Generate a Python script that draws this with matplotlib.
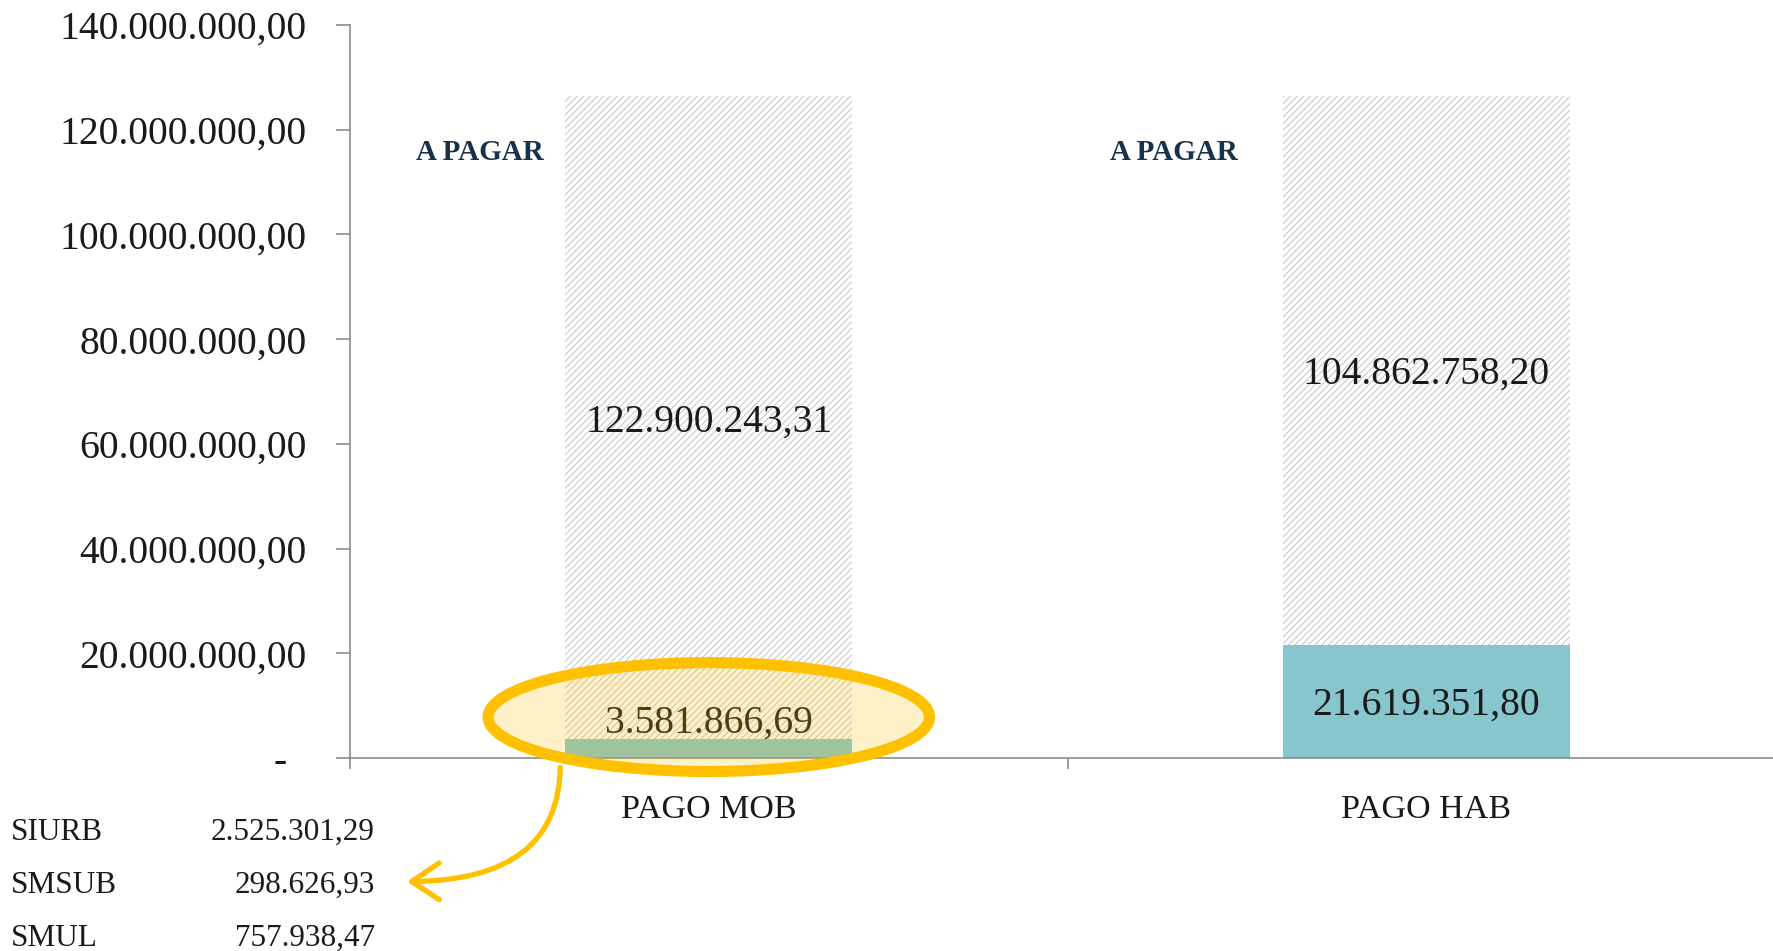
import numpy as np
import matplotlib
matplotlib.use('Agg')
import matplotlib.pyplot as plt
from matplotlib.patches import Ellipse, FancyArrowPatch

plt.rcParams['font.family'] = ['Liberation Serif', 'DejaVu Serif']
plt.rcParams['hatch.linewidth'] = 0.7

# values
categories = ['PAGO MOB', 'PAGO HAB']
pago = [3581866.69, 21619351.80]
a_pagar = [122900243.31, 104862758.20]
pago_labels = ['3.581.866,69', '21.619.351,80']
a_pagar_labels = ['122.900.243,31', '104.862.758,20']
detail_names = ['SIURB', 'SMSUB', 'SMUL']
detail_values = ['2.525.301,29', '298.626,93', '757.938,47']
yticks = [0, 20e6, 40e6, 60e6, 80e6, 100e6, 120e6, 140e6]

teal = '#86c6cc'
gray_axis = '#8c8c8c'
gold = '#ffc000'
navy = '#17324a'

fig = plt.figure(figsize=(17.73, 9.51), dpi=100)
ax = fig.add_axes([0.1974, 0.2029, 0.8026, 0.7708])

x = np.arange(len(categories))
w = 0.40
ax.bar(x, pago, w, color=teal, linewidth=0, zorder=2)
ax.bar(x, a_pagar, w, bottom=pago, facecolor='white', edgecolor='#c2c2c2',
       hatch='/////', linewidth=0, zorder=2)


def bar_label(xx, yy, s):
    ax.annotate(s, (xx, yy), xytext=(0, -3), textcoords='offset points',
                ha='center', va='center', fontsize=28.5, color='#1a1a1a', zorder=3)


# labels
for i in range(len(x)):
    top = pago[i] + a_pagar[i]
    bar_label(x[i], pago[i] + a_pagar[i] / 2, a_pagar_labels[i])
    ax.text(x[i] + (-0.319 if i == 0 else -0.352), top * 0.915, 'A PAGAR',
            ha='center', va='center', fontsize=21, fontweight='bold', color=navy, zorder=3)
bar_label(x[1], pago[1] / 2, pago_labels[1])
bar_label(x[0], 7.4e6, pago_labels[0])

# highlight ellipse
ell_c = (x[0], 7.83e6)
ax.add_patch(Ellipse(ell_c, 0.615, 20.8e6, facecolor=gold, alpha=0.22,
                     edgecolor='none', zorder=4, clip_on=False))
ax.add_patch(Ellipse(ell_c, 0.615, 20.8e6, facecolor='none',
                     edgecolor=gold, linewidth=8, zorder=5, clip_on=False))

# axes styling
for s in ['top', 'right']:
    ax.spines[s].set_visible(False)
for s in ['left', 'bottom']:
    ax.spines[s].set_color(gray_axis)
    ax.spines[s].set_linewidth(1.2)

ax.set_yticks(yticks)
ax.set_yticklabels(['-  '] + ['{:,.2f}'.format(v).replace(',', 'X').replace('.', ',').replace('X', '.')
                              for v in yticks[1:]])
ax.tick_params(axis='y', length=10, width=1.2, color=gray_axis, pad=21,
               labelsize=28.5, labelcolor='#1a1a1a')
ax.set_xticks(x)
ax.set_xticklabels(categories)
ax.tick_params(axis='x', which='major', length=0, pad=26, labelsize=24.5, labelcolor='#1a1a1a')
ax.set_xticks([-0.5, 0.5], minor=True)
ax.tick_params(axis='x', which='minor', length=8, width=1.2, color=gray_axis)
ax.set_xlim(-0.5, 1.483)
ax.set_ylim(0, 140e6)

# breakdown table
for name, val, yy in zip(detail_names, detail_values, [0.125, 0.069, 0.013]):
    fig.text(0.0062, yy, name, ha='left', va='center', fontsize=22.5, color='#1a1a1a')
    fig.text(0.2115, yy, val, ha='right', va='center', fontsize=22.5, color='#1a1a1a')

arrow = FancyArrowPatch((0.316, 0.196), (0.228, 0.073), transform=fig.transFigure,
                        connectionstyle='angle3,angleA=90,angleB=0',
                        arrowstyle='->,head_length=0.9,head_width=0.6',
                        mutation_scale=22, color=gold, linewidth=3.8, zorder=6)
fig.patches.append(arrow)

fig.savefig('out.png', dpi=100)
